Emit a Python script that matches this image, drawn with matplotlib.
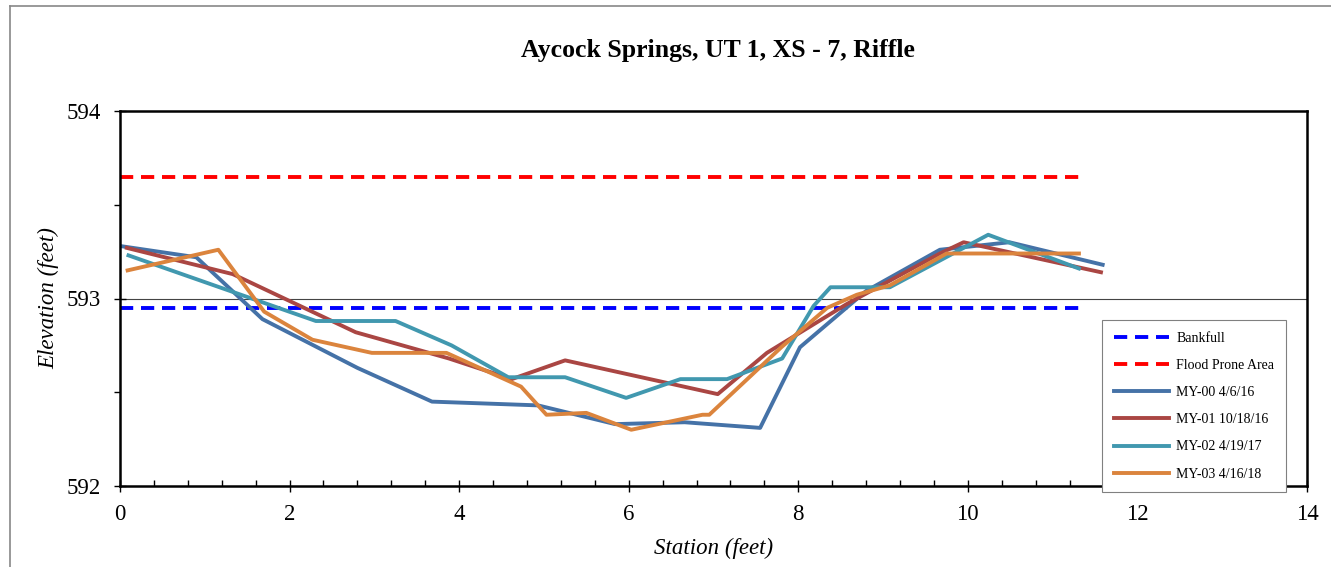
import matplotlib.pyplot as plt
from matplotlib.lines import Line2D
from matplotlib.ticker import MultipleLocator

plt.rcParams['font.family'] = ['Liberation Serif', 'DejaVu Serif']

title = "Aycock Springs, UT 1, XS - 7, Riffle"

# bankfull / flood prone reference lines
ref_x = [0, 11.35]
bankfull = [592.95, 592.95]
flood_prone = [593.65, 593.65]

# surveyed cross sections
my00_x = [0, 0.9, 1.68, 2.8, 3.68, 4.93, 5.84, 6.66, 7.55, 8.02, 8.8, 9.67, 10.49, 11.59]
my00_y = [593.28, 593.22, 592.89, 592.63, 592.45, 592.43, 592.33, 592.34, 592.31, 592.74, 593.04, 593.26, 593.30, 593.18]

my01_x = [0.08, 1.33, 2.78, 3.88, 4.62, 5.25, 7.05, 7.63, 8.57, 9.67, 9.95, 11.57]
my01_y = [593.27, 593.13, 592.82, 592.68, 592.57, 592.67, 592.49, 592.71, 592.97, 593.24, 593.30, 593.14]

my02_x = [0.1, 2.31, 3.25, 3.91, 4.58, 5.25, 5.97, 6.61, 7.16, 7.81, 8.18, 8.38, 9.08, 10.24, 11.31]
my02_y = [593.23, 592.88, 592.88, 592.75, 592.58, 592.58, 592.47, 592.57, 592.57, 592.68, 592.96, 593.06, 593.06, 593.34, 593.16]

my03_x = [0.09, 1.16, 1.70, 2.27, 2.97, 3.85, 4.73, 5.03, 5.50, 6.03, 6.87, 6.95, 7.8, 8.34, 8.69, 9.08, 9.75, 11.31]
my03_y = [593.15, 593.26, 592.93, 592.78, 592.71, 592.71, 592.53, 592.38, 592.39, 592.30, 592.38, 592.38, 592.74, 592.95, 593.02, 593.07, 593.24, 593.24]

fig = plt.figure(figsize=(13.31, 5.67), dpi=100)
ax = fig.add_axes([120 / 1331, 1 - 486 / 567, (1307 - 120) / 1331, (486 - 111) / 567])

# outer chart border (left and top visible)
fig.add_artist(Line2D([10 / 1331, 10 / 1331], [0, 1 - 6 / 567], transform=fig.transFigure, color='#888888', lw=1.2))
fig.add_artist(Line2D([10 / 1331, 1], [1 - 6 / 567, 1 - 6 / 567], transform=fig.transFigure, color='#888888', lw=1.2))

dash = (0, (3.4, 2.0))
ax.plot(ref_x, bankfull, color='#0000FF', lw=2.8, linestyle=dash, label='Bankfull')
ax.plot(ref_x, flood_prone, color='#FF0000', lw=2.8, linestyle=dash, label='Flood Prone Area')
ax.plot(my00_x, my00_y, color='#4572A7', lw=2.8, label='MY-00 4/6/16')
ax.plot(my01_x, my01_y, color='#AA4643', lw=2.8, label='MY-01 10/18/16')
ax.plot(my02_x, my02_y, color='#4198AF', lw=2.8, label='MY-02 4/19/17')
ax.plot(my03_x, my03_y, color='#DB843D', lw=2.8, label='MY-03 4/16/18')

ax.axhline(593, color='#444444', lw=0.8, zorder=0)

ax.set_xlim(0, 14)
ax.set_ylim(592, 594)
ax.xaxis.set_major_locator(MultipleLocator(2))
ax.xaxis.set_minor_locator(MultipleLocator(0.4))
ax.yaxis.set_major_locator(MultipleLocator(1))
ax.yaxis.set_minor_locator(MultipleLocator(0.5))
ax.tick_params(which='major', direction='inout', length=8, width=1, labelsize=16.5)
ax.tick_params(axis='x', which='major', pad=9)
ax.tick_params(axis='y', which='major', pad=10)
ax.tick_params(which='minor', direction='in', length=4, width=1)
ax.tick_params(axis='y', which='minor', direction='out')
for s in ax.spines.values():
    s.set_linewidth(1.8)
    s.set_color('black')

fig.text(718 / 1331, 1 - 50 / 567, title, fontsize=18.5, fontweight='bold', ha='center', va='center')
ax.set_xlabel('Station (feet)', fontsize=16.5, style='italic', labelpad=9)
ax.set_ylabel('Elevation (feet)', fontsize=16.5, style='italic', labelpad=5)

leg = ax.legend(loc='upper left', bbox_to_anchor=(1102 / 1331, 1 - 320 / 567), bbox_transform=fig.transFigure,
                fontsize=10, frameon=True, fancybox=False, edgecolor='#808080', framealpha=1,
                handlelength=4.0, labelspacing=1.02, borderpad=0.85, handletextpad=0.5, borderaxespad=0)
leg.get_frame().set_linewidth(0.8)
leg.set_zorder(5)

fig.savefig('out.png', dpi=100)
